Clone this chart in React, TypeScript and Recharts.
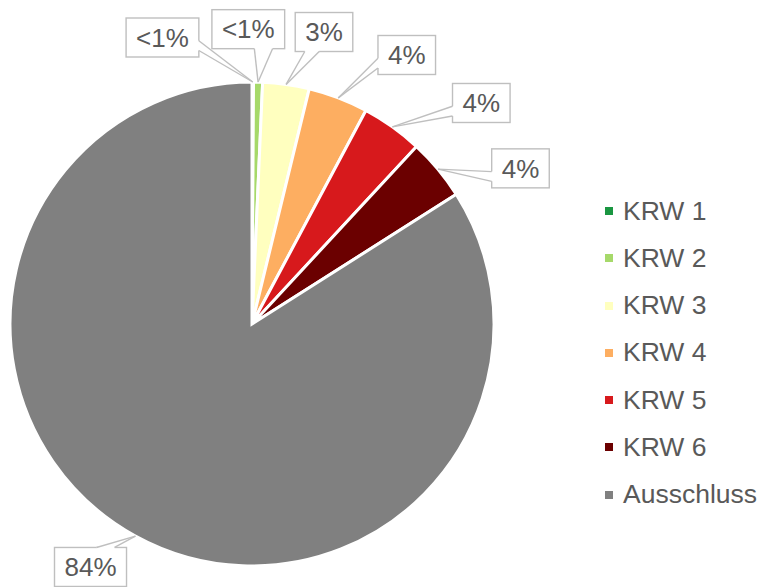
import React from 'react';
import { PieChart, Pie, Cell, Legend } from 'recharts';

const categories = ['KRW 1', 'KRW 2', 'KRW 3', 'KRW 4', 'KRW 5', 'KRW 6', 'Ausschluss'];
const values = [0.1, 0.6, 3.1, 4.0, 4.1, 4.1, 84.0];
const colors = ['#1A9641', '#A6D96A', '#FFFFBF', '#FDAE61', '#D7191C', '#6B0000', '#808080'];
// label box offsets from the slice's outer anchor point (layout only)
const labelOffsets: [number, number][] = [
  [-90.3, -44.5],
  [-9.8, -52.9],
  [37.9, -52.4],
  [68.5, -42.9],
  [88.9, -23.9],
  [82.5, -0.8],
  [-44.9, 30.9],
];

const FONT = '"Liberation Sans", Arial, sans-serif';
const TEXT = '#595959';
const BORDER = '#BFBFBF';
const FS = 26;
const LEGEND_FS = 26.5;

const data = categories.map((name, i) => ({ name, value: values[i] }));

const charW: Record<string, number> = { '<': 0.584, '%': 0.889 };
const textWidth = (s: string) =>
  s.split('').reduce((a, c) => a + (charW[c] ?? 0.556), 0) * FS;

const fmt = (v: number) => (v < 1 ? '<1%' : `${Math.round(v)}%`);

const renderLabel = (props: any) => {
  const { cx, cy, midAngle, outerRadius, index, value } = props;
  const RAD = Math.PI / 180;
  const ax = cx + outerRadius * Math.cos(midAngle * RAD);
  const ay = cy - outerRadius * Math.sin(midAngle * RAD);
  const [ox, oy] = labelOffsets[index];
  const bx = ax + ox;
  const by = ay + oy;
  const txt = fmt(value);
  const w = textWidth(txt) + 20;
  const h = 39;
  const left = bx - w / 2;
  const top = by - h / 2;
  const dx = ax - bx;
  const dy = ay - by;
  let b1: [number, number];
  let b2: [number, number];
  let in1: [number, number];
  let in2: [number, number];
  if (Math.abs((dx * h) / w) > Math.abs(dy)) {
    const ex = dx > 0 ? left + w : left;
    const f = dy > 0 ? [7 / 12, 10 / 12] : [2 / 12, 5 / 12];
    b1 = [ex, top + f[0] * h];
    b2 = [ex, top + f[1] * h];
    const s = dx > 0 ? -2 : 2;
    in1 = [ex + s, b1[1]];
    in2 = [ex + s, b2[1]];
  } else {
    const ey = dy > 0 ? top + h : top;
    const f = dx > 0 ? [7 / 12, 10 / 12] : [2 / 12, 5 / 12];
    b1 = [left + f[0] * w, ey];
    b2 = [left + f[1] * w, ey];
    const s = dy > 0 ? -2 : 2;
    in1 = [b1[0], ey + s];
    in2 = [b2[0], ey + s];
  }
  const poly = [in1, b1, [ax, ay], b2, in2].map((p) => p.join(',')).join(' ');
  return (
    <g key={`lbl-${index}`}>
      <rect x={left} y={top} width={w} height={h} fill="#fff" stroke={BORDER} strokeWidth={1.4} />
      <polygon points={poly} fill="#fff" stroke="none" />
      <line x1={b1[0]} y1={b1[1]} x2={ax} y2={ay} stroke={BORDER} strokeWidth={1.4} />
      <line x1={b2[0]} y1={b2[1]} x2={ax} y2={ay} stroke={BORDER} strokeWidth={1.4} />
      <text
        x={bx}
        y={by + 0.358 * FS}
        textAnchor="middle"
        fill={TEXT}
        fontSize={FS}
        fontFamily={FONT}
      >
        {txt}
      </text>
    </g>
  );
};

const renderLegend = () => (
  <div style={{ fontFamily: FONT, fontSize: LEGEND_FS, color: TEXT }}>
    {categories.map((c, i) => (
      <div key={c} style={{ height: 47.3, lineHeight: '47.3px', whiteSpace: 'nowrap', position: 'relative' }}>
        <span
          style={{
            position: 'absolute',
            left: 0,
            top: 19.5,
            width: 8,
            height: 8,
            background: colors[i],
          }}
        />
        <span style={{ position: 'absolute', left: 18 }}>{c}</span>
      </div>
    ))}
  </div>
);

export default function App() {
  return (
    <div style={{ position: 'absolute', left: 0, top: 0, width: 759, height: 587, background: '#fff' }}>
      <PieChart width={759} height={587} margin={{ top: 0, right: 0, bottom: 0, left: 0 }}>
        <Pie
          data={data}
          dataKey="value"
          nameKey="name"
          cx={252}
          cy={324}
          outerRadius={242}
          innerRadius={0}
          startAngle={90}
          endAngle={-270}
          stroke="#fff"
          strokeWidth={3}
          label={renderLabel}
          labelLine={false}
          isAnimationActive={false}
        >
          {data.map((d, i) => (
            <Cell key={d.name} fill={colors[i]} />
          ))}
        </Pie>
        <Legend
          content={renderLegend}
          wrapperStyle={{ position: 'absolute', left: 605, top: 187.5, width: 154 }}
        />
      </PieChart>
    </div>
  );
}
